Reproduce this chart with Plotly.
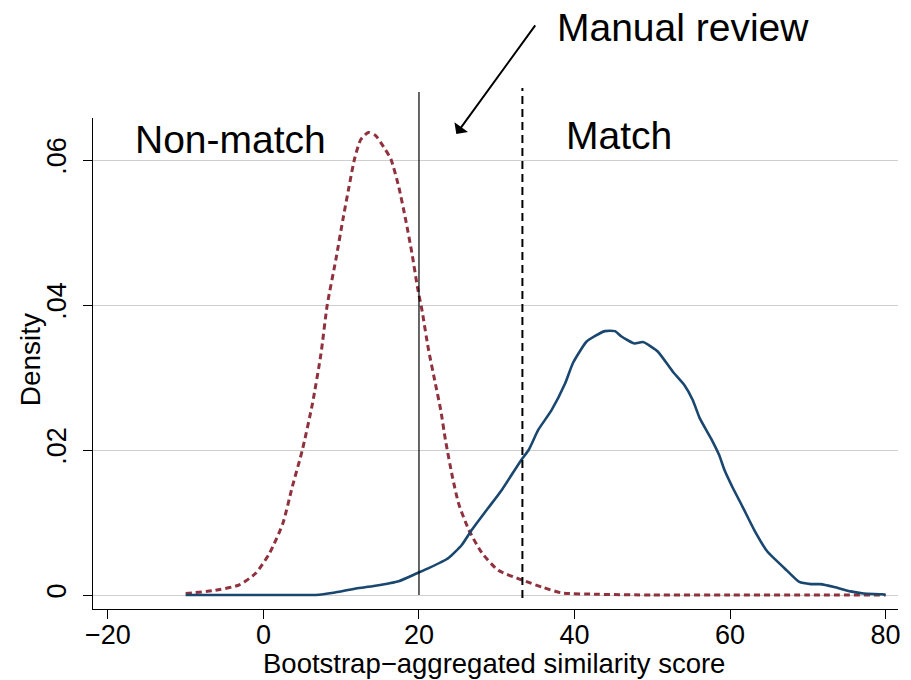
import plotly.graph_objects as go

# Non-match density (red dotted)
nonmatch_x = [-10, -6.5, -3.1, -1, 0.8, 2.5, 3.7, 5.0, 6.3, 7.4, 8.2, 9.3, 10.2, 11.0, 11.7,
              12.5, 13.5, 14.4, 15.7, 16.4, 17.4, 18.3, 19.1, 19.8, 20.4, 21.2, 22.1, 22.8,
              23.4, 24.3, 25.1, 26.4, 28.1, 30.2, 33.2, 35.8, 38.3, 43, 50, 60, 70, 80]
nonmatch_y = [.0002, .0006, .0014, .003, .0058, .0099, .0149, .020, .0264, .0333, .040, .0462,
              .0517, .0563, .0601, .0628, .0638, .0634, .0614, .0601, .0563, .0517, .0471,
              .0425, .0392, .0340, .0292, .0255, .0214, .0163, .0126, .009, .0058, .0034,
              .0021, .0011, .0003, .0001, 0, 0, 0, 0]

# Match density (blue solid)
match_x = [-10, -5, 0, 5, 6.7, 9, 11.9, 14, 16.1, 17.4, 19.75, 21.25, 23.8, 25.5, 26.8, 28.9,
           30.65, 33.2, 34.1, 35.35, 37.05, 38.8, 39.8, 41.5, 42.6, 43.9, 45.2, 46.0, 47.7,
           48.8, 50.7, 52.65, 54.1, 55.2, 56.1, 57.55, 58.6, 59.3, 60.3, 61.6, 63.1, 64.8,
           67.0, 68.9, 70.4, 71.6, 73.4, 75.5, 77.2, 79.6, 80]
match_y = [0, 0, 0, 0, 0, .0003, .0009, .0012, .0016, .0019, .003, .0037, .0051, .0069, .009,
           .012, .0145, .0187, .020, .0228, .0255, .0292, .032, .0349, .0357, .0364, .0364,
           .0357, .0347, .0349, .0336, .0308, .029, .0269, .0244, .0216, .0193, .0172, .0149,
           .0122, .009, .006, .0037, .0018, .0015, .0015, .0011, .0005, .0002, .0001, 0]

x_ticks = [-20, 0, 20, 40, 60, 80]
x_ticktext = ["\u221220", "0", "20", "40", "60", "80"]
y_ticks = [0, 0.02, 0.04, 0.06]
y_ticktext = ["0", ".02", ".04", ".06"]

lower_cut = 20
upper_cut = 33.3

FONT = "Liberation Sans, Arial, Helvetica, sans-serif"

fig = go.Figure()
fig.add_trace(go.Scatter(x=nonmatch_x, y=nonmatch_y, mode="lines",
                         line=dict(color="#8f323e", width=3, dash="6px,4px",
                                   shape="spline", smoothing=0.6),
                         showlegend=False, hoverinfo="skip"))
fig.add_trace(go.Scatter(x=match_x, y=match_y, mode="lines",
                         line=dict(color="#1a476f", width=2.6, shape="spline", smoothing=0.5),
                         showlegend=False, hoverinfo="skip"))

fig.add_shape(type="line", xref="x", yref="paper", x0=lower_cut, x1=lower_cut,
              y0=0.0285, y1=1.053, line=dict(color="black", width=1.2))
fig.add_shape(type="line", xref="x", yref="paper", x0=upper_cut, x1=upper_cut,
              y0=0.0224, y1=1.061, line=dict(color="black", width=2, dash="8px,5px"))

fig.add_annotation(xref="paper", yref="paper", x=0.050, y=0.957, xanchor="left",
                   yanchor="middle", text="Non-match", showarrow=False,
                   font=dict(family=FONT, size=39, color="black"))
fig.add_annotation(xref="paper", yref="paper", x=0.585, y=0.965, xanchor="left",
                   yanchor="middle", text="Match", showarrow=False,
                   font=dict(family=FONT, size=39, color="black"))
fig.add_annotation(xref="paper", yref="paper", x=0.574, y=1.185, xanchor="left",
                   yanchor="middle", text="Manual review", showarrow=False,
                   font=dict(family=FONT, size=39, color="black"))
fig.add_annotation(xref="x", yref="y", x=24.8, y=0.0636, ax=80, ay=-110,
                   axref="pixel", ayref="pixel", text="", showarrow=True,
                   arrowhead=1, arrowsize=1.4, arrowwidth=2, arrowcolor="black")

# axis titles
fig.add_annotation(xref="paper", yref="paper", x=0.498, y=-0.1446, xanchor="center",
                   yanchor="bottom", borderpad=0,
                   text="Bootstrap\u2212aggregated similarity score",
                   showarrow=False, font=dict(family=FONT, size=27.5, color="black"))
fig.add_annotation(xref="paper", yref="paper", x=-0.078, y=0.507, xanchor="center",
                   yanchor="middle", text="Density", textangle=-90,
                   showarrow=False, font=dict(family=FONT, size=28, color="black"))

fig.update_layout(
    width=911, height=680,
    margin=dict(l=93, r=10, t=118, b=71),
    plot_bgcolor="white", paper_bgcolor="white",
    font=dict(family=FONT, color="black"),
    showlegend=False,
    xaxis=dict(range=[-21.92, 81.6], tickvals=x_ticks, ticktext=x_ticktext,
               showgrid=False, zeroline=False, showline=True, linecolor="black",
               linewidth=1.2, ticks="outside", ticklen=9, tickcolor="black",
               tickwidth=1.2, ticklabelstandoff=-8,
               tickfont=dict(size=27, family=FONT, color="black")),
    yaxis=dict(range=[-0.00193, 0.0658], tickvals=y_ticks, ticktext=y_ticktext,
               showgrid=True, gridcolor="#cfcfcf", gridwidth=1, zeroline=False,
               showline=True, linecolor="black", linewidth=1.2, ticks="outside",
               ticklen=9, tickcolor="black", tickwidth=1.2, tickangle=-90,
               ticklabelstandoff=6,
               tickfont=dict(size=27, family=FONT, color="black")),
)

fig.write_html("out.html")
